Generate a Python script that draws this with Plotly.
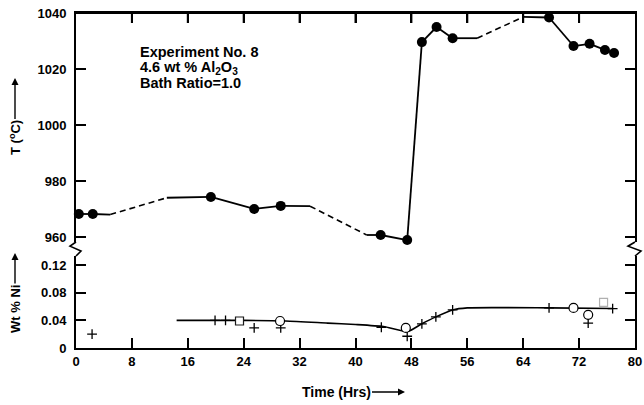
import plotly.graph_objects as go

# ---- Temperature record (filled circles) ----
temp_hr = [0.4, 2.4, 19.3, 25.5, 29.3, 43.6, 47.4, 49.5, 51.6, 53.9, 67.7, 71.2, 73.5, 75.7, 77.0]
temp_c = [968.2, 968.2, 974.3, 970.0, 971.1, 960.7, 958.9, 1029.6, 1035.0, 1031.0, 1038.4, 1028.2, 1029.0, 1026.8, 1025.7]

# Temperature trace path; spans without readings are drawn dashed
path_hr = [0.4, 2.4, 4.9, 13.0, 19.3, 25.5, 29.3, 33.5, 41.6, 43.6, 47.4, 49.5, 51.6, 53.9, 57.4, 64.0, 67.7, 71.2, 73.5, 75.7, 77.0]
path_c = [968.2, 968.2, 968.0, 974.0, 974.3, 970.0, 971.1, 971.0, 960.7, 960.7, 958.9, 1029.6, 1035.0, 1031.0, 1031.0, 1038.6, 1038.4, 1028.2, 1029.0, 1026.8, 1025.7]
dashed_from = [4.9, 33.5, 57.4]

# ---- Nickel content ----
ni_curve_hr = [14.4, 24.0, 30.0, 36.0, 40.0, 44.0, 47.5, 49.5, 51.5, 53.9, 56.0, 67.7, 76.8]
ni_curve = [0.040, 0.040, 0.039, 0.036, 0.034, 0.031, 0.024, 0.035, 0.045, 0.055, 0.058, 0.058, 0.057]

ni_plus_hr = [2.3, 19.9, 21.4, 25.5, 29.3, 43.7, 47.4, 49.5, 51.5, 53.9, 67.7, 73.3, 76.8]
ni_plus = [0.020, 0.040, 0.040, 0.029, 0.029, 0.030, 0.017, 0.035, 0.045, 0.055, 0.058, 0.036, 0.057]

ni_circle_hr = [29.2, 47.2, 71.2, 73.3]
ni_circle = [0.039, 0.029, 0.058, 0.048]

ni_square_hr = [23.4, 75.5]
ni_square = [0.039, 0.066]
ni_square_edge = ["#1a1a1a", "#b0b0b0"]

x_ticks = [0, 8, 16, 24, 32, 40, 48, 56, 64, 72, 80]
t_ticks = [960, 980, 1000, 1020, 1040]
ni_ticks = [0, 0.04, 0.08, 0.12]
ni_tick_text = ["0", "0.04", "0.08", "0.12"]

INK = "black"
FONT = "Liberation Sans"

W, H = 644, 405
ML, MR, MT, MB = 76, 9, 4, 57
plot_h = H - MT - MB
plot_w = W - ML - MR
TICK_LEN = 10
FRAME_TOP = 13      # pixel row of the upper frame edge
T_RANGE = [958.2, 1040]
X_RANGE = [0, 80]


def py(p):  # pixel row -> paper y
    return (H - MB - p) / plot_h


def px(p):  # pixel column -> paper x
    return (p - ML) / plot_w


top_dom = [py(242), py(FRAME_TOP)]
bot_dom = [0.0, py(256)]

fig = go.Figure()

# temperature path, split into solid and dashed pieces
solid_x, solid_y, dash_x, dash_y = [], [], [], []
for i in range(len(path_hr) - 1):
    seg_x = [path_hr[i], path_hr[i + 1], None]
    seg_y = [path_c[i], path_c[i + 1], None]
    if path_hr[i] in dashed_from:
        dash_x += seg_x
        dash_y += seg_y
    else:
        solid_x += seg_x
        solid_y += seg_y

# upper frame edge and its inward tick marks, in the upper panel's own units
deg_per_px = (T_RANGE[1] - T_RANGE[0]) / ((top_dom[1] - top_dom[0]) * plot_h)
frame_x, frame_y = [X_RANGE[0], X_RANGE[1], None], [T_RANGE[1], T_RANGE[1], None]
for v in x_ticks[1:-1]:
    frame_x += [v, v, None]
    frame_y += [T_RANGE[1], T_RANGE[1] - TICK_LEN * deg_per_px, None]
fig.add_trace(go.Scatter(x=frame_x, y=frame_y, xaxis="x", yaxis="y", mode="lines",
                         line=dict(color=INK, width=2), hoverinfo="skip", showlegend=False,
                         cliponaxis=False))

# upper panel: x / y ; lower panel: x2 / y2
fig.add_trace(go.Scatter(x=solid_x, y=solid_y, xaxis="x", yaxis="y", mode="lines",
                         line=dict(color=INK, width=1.8), hoverinfo="skip", showlegend=False,
                         cliponaxis=False))
fig.add_trace(go.Scatter(x=dash_x, y=dash_y, xaxis="x", yaxis="y", mode="lines",
                         line=dict(color=INK, width=1.6, dash="6px,4px"), hoverinfo="skip",
                         showlegend=False, cliponaxis=False))
fig.add_trace(go.Scatter(x=temp_hr, y=temp_c, xaxis="x", yaxis="y", mode="markers",
                         marker=dict(symbol="circle", size=10, color=INK), showlegend=False,
                         cliponaxis=False))

fig.add_trace(go.Scatter(x=ni_curve_hr, y=ni_curve, xaxis="x2", yaxis="y2", mode="lines",
                         line=dict(color=INK, width=1.6, shape="spline", smoothing=0.6),
                         hoverinfo="skip", showlegend=False, cliponaxis=False))
fig.add_trace(go.Scatter(x=ni_plus_hr, y=ni_plus, xaxis="x2", yaxis="y2", mode="markers",
                         marker=dict(symbol="cross-thin", size=7, line=dict(color=INK, width=1.3)),
                         showlegend=False, cliponaxis=False))
fig.add_trace(go.Scatter(x=ni_circle_hr, y=ni_circle, xaxis="x2", yaxis="y2", mode="markers",
                         marker=dict(symbol="circle", size=9, color="white",
                                     line=dict(color=INK, width=1.2)),
                         showlegend=False, cliponaxis=False))
fig.add_trace(go.Scatter(x=ni_square_hr, y=ni_square, xaxis="x2", yaxis="y2", mode="markers",
                         marker=dict(symbol="square", size=8, color="white",
                                     line=dict(color=ni_square_edge, width=1.2)),
                         showlegend=False, cliponaxis=False))

tick_font = dict(family=FONT, size=13, color=INK, weight="bold")
axis_common = dict(showgrid=False, zeroline=False, showline=True, linecolor=INK, linewidth=2,
                   ticks="inside", ticklen=TICK_LEN, tickwidth=1.5, tickcolor=INK,
                   tickfont=tick_font, automargin=False)

fig.update_layout(
    width=W, height=H,
    margin=dict(l=ML, r=MR, t=MT, b=MB),
    paper_bgcolor="white", plot_bgcolor="white",
    xaxis=dict(domain=[0, 1], range=X_RANGE, anchor="y", side="top",
               tickvals=x_ticks, showticklabels=False, **axis_common),
    xaxis2=dict(domain=[0, 1], range=X_RANGE, anchor="y2", side="bottom",
                tickvals=x_ticks, **axis_common),
    yaxis=dict(domain=top_dom, range=T_RANGE, anchor="x", tickvals=t_ticks,
               mirror="ticks", ticklabelstandoff=5, **axis_common),
    yaxis2=dict(domain=bot_dom, range=[0, 0.133], anchor="x2", tickvals=ni_ticks,
                ticktext=ni_tick_text, mirror="ticks", ticklabelstandoff=5, **axis_common),
)

# axis breaks (zigzags) on both vertical edges
y_a, y_b = top_dom[0], bot_dom[1]
ym1 = y_a - (y_a - y_b) * 0.3
ym2 = y_a - (y_a - y_b) * 0.65
for x0, dl, dr in [(0.0, px(70), px(81)), (1.0, px(628), px(641))]:
    fig.add_shape(type="path", xref="paper", yref="paper",
                  path=f"M {x0} {y_a} L {dl} {ym1} L {dr} {ym2} L {x0} {y_b}",
                  line=dict(color=INK, width=1.6))

label_font = dict(family=FONT, size=13, color=INK, weight="bold")
note_font = dict(family=FONT, size=14.5, color=INK, weight="bold")

# experiment notes
for row, txt in [(52, "Experiment No. 8"), (68, "4.6 wt % Al<sub>2</sub>O<sub>3</sub>"), (83, "Bath Ratio=1.0")]:
    fig.add_annotation(x=px(138), y=py(row), xref="paper", yref="paper", text=txt,
                       showarrow=False, xanchor="left", yanchor="middle", font=note_font)

# axis titles with arrows
fig.add_annotation(x=px(15), y=py(78), xref="paper", yref="paper", text="T (<sup>o</sup>C)",
                   textangle=-90, showarrow=True, ax=0, ay=60, arrowhead=2, arrowsize=1,
                   arrowwidth=1.4, arrowcolor=INK, font=label_font)
fig.add_annotation(x=px(15), y=py(253), xref="paper", yref="paper", text="Wt % Ni",
                   textangle=-90, showarrow=True, ax=0, ay=56, arrowhead=2, arrowsize=1,
                   arrowwidth=1.4, arrowcolor=INK, font=label_font)
fig.add_annotation(x=px(405), y=py(392), xref="paper", yref="paper", text="Time (Hrs)",
                   showarrow=True, ax=-69, ay=0, arrowhead=2, arrowsize=1,
                   arrowwidth=1.4, arrowcolor=INK, font=dict(family=FONT, size=14, color=INK,
                                                             weight="bold"))

fig.write_html("out.html")
